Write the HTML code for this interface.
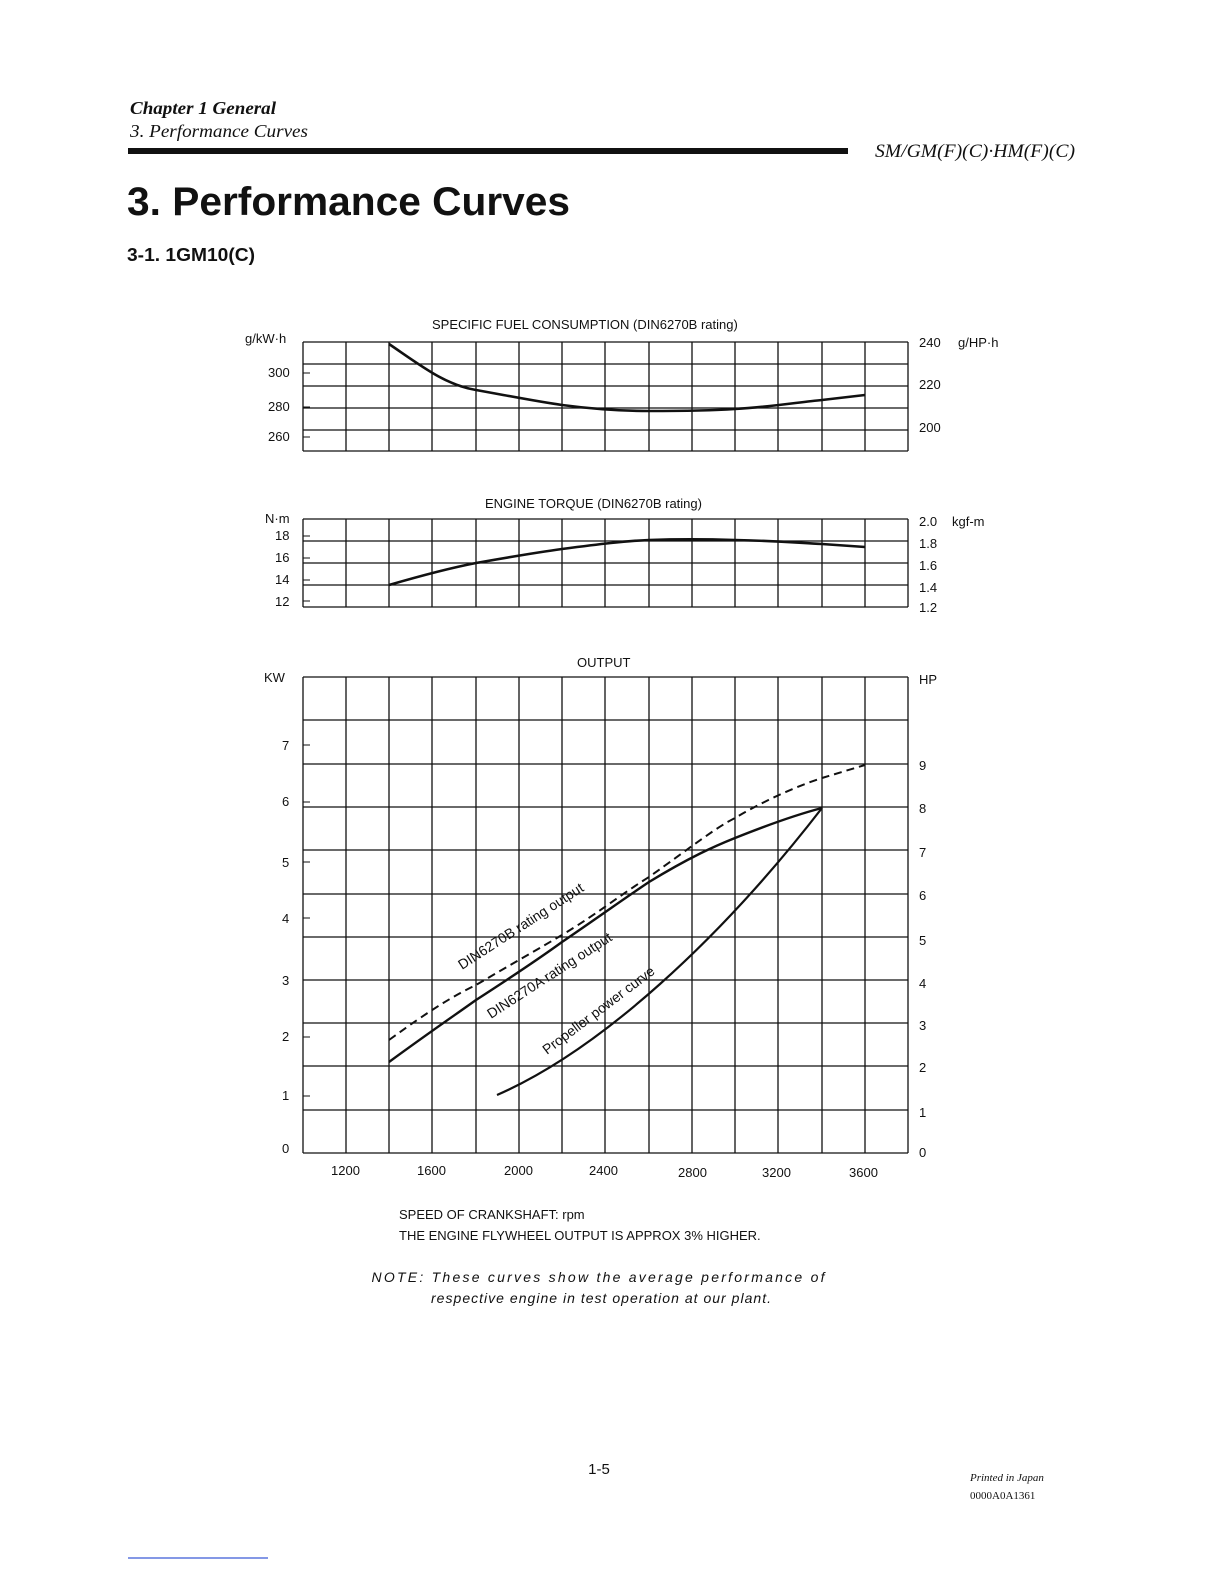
<!DOCTYPE html>
<html><head><meta charset="utf-8"><style>
html,body{margin:0;padding:0;background:#fff}
svg{display:block}
text{font-family:"Liberation Sans",sans-serif;fill:#111}
.s{font-family:"Liberation Serif",serif;font-style:italic}
</style></head><body>
<svg width="1224" height="1584" viewBox="0 0 1224 1584" xmlns="http://www.w3.org/2000/svg">
<text x="130" y="114" class="s" font-size="18" font-weight="bold" textLength="146" lengthAdjust="spacingAndGlyphs">Chapter 1 General</text>
<text x="130" y="137" class="s" font-size="18" textLength="178" lengthAdjust="spacingAndGlyphs">3. Performance Curves</text>
<rect x="128" y="148" width="720" height="6" fill="#111"/>
<text x="875" y="157" class="s" font-size="19" textLength="200" lengthAdjust="spacingAndGlyphs">SM/GM(F)(C)·HM(F)(C)</text>
<text x="127" y="215" font-size="40" font-weight="bold" textLength="443" lengthAdjust="spacingAndGlyphs">3. Performance Curves</text>
<text x="127" y="261" font-size="18" font-weight="bold" textLength="128" lengthAdjust="spacingAndGlyphs">3-1. 1GM10(C)</text>

<g stroke="#111" stroke-width="1.3" fill="none">
<line x1="303" y1="342" x2="303" y2="451"/><line x1="346" y1="342" x2="346" y2="451"/><line x1="389" y1="342" x2="389" y2="451"/><line x1="432" y1="342" x2="432" y2="451"/><line x1="476" y1="342" x2="476" y2="451"/><line x1="519" y1="342" x2="519" y2="451"/><line x1="562" y1="342" x2="562" y2="451"/><line x1="605" y1="342" x2="605" y2="451"/><line x1="649" y1="342" x2="649" y2="451"/><line x1="692" y1="342" x2="692" y2="451"/><line x1="735" y1="342" x2="735" y2="451"/><line x1="778" y1="342" x2="778" y2="451"/><line x1="822" y1="342" x2="822" y2="451"/><line x1="865" y1="342" x2="865" y2="451"/><line x1="908" y1="342" x2="908" y2="451"/>
<line x1="303" y1="342" x2="908" y2="342"/><line x1="303" y1="364" x2="908" y2="364"/><line x1="303" y1="386" x2="908" y2="386"/><line x1="303" y1="408" x2="908" y2="408"/><line x1="303" y1="430" x2="908" y2="430"/><line x1="303" y1="451" x2="908" y2="451"/>
<path d="M389,344 C420,365 445,385 476,390 C520,398 540,402 562,405 C600,410 630,411 649,411 C690,411 720,410 735,409 C770,407 800,402 822,400 L865,395" stroke-width="2.6"/>

<line x1="303" y1="519" x2="303" y2="607"/><line x1="346" y1="519" x2="346" y2="607"/><line x1="389" y1="519" x2="389" y2="607"/><line x1="432" y1="519" x2="432" y2="607"/><line x1="476" y1="519" x2="476" y2="607"/><line x1="519" y1="519" x2="519" y2="607"/><line x1="562" y1="519" x2="562" y2="607"/><line x1="605" y1="519" x2="605" y2="607"/><line x1="649" y1="519" x2="649" y2="607"/><line x1="692" y1="519" x2="692" y2="607"/><line x1="735" y1="519" x2="735" y2="607"/><line x1="778" y1="519" x2="778" y2="607"/><line x1="822" y1="519" x2="822" y2="607"/><line x1="865" y1="519" x2="865" y2="607"/><line x1="908" y1="519" x2="908" y2="607"/>
<line x1="303" y1="519" x2="908" y2="519"/><line x1="303" y1="541" x2="908" y2="541"/><line x1="303" y1="563" x2="908" y2="563"/><line x1="303" y1="585" x2="908" y2="585"/><line x1="303" y1="607" x2="908" y2="607"/>
<path d="M389,585 C420,576 450,568 476,563 C510,557 540,552 562,549 C600,544 625,541 649,540 C680,539 700,539 735,540 C780,541 800,543 822,544 L865,547" stroke-width="2.6"/>

<line x1="303" y1="677" x2="303" y2="1153"/><line x1="346" y1="677" x2="346" y2="1153"/><line x1="389" y1="677" x2="389" y2="1153"/><line x1="432" y1="677" x2="432" y2="1153"/><line x1="476" y1="677" x2="476" y2="1153"/><line x1="519" y1="677" x2="519" y2="1153"/><line x1="562" y1="677" x2="562" y2="1153"/><line x1="605" y1="677" x2="605" y2="1153"/><line x1="649" y1="677" x2="649" y2="1153"/><line x1="692" y1="677" x2="692" y2="1153"/><line x1="735" y1="677" x2="735" y2="1153"/><line x1="778" y1="677" x2="778" y2="1153"/><line x1="822" y1="677" x2="822" y2="1153"/><line x1="865" y1="677" x2="865" y2="1153"/><line x1="908" y1="677" x2="908" y2="1153"/>
<line x1="303" y1="677" x2="908" y2="677"/><line x1="303" y1="720" x2="908" y2="720"/><line x1="303" y1="764" x2="908" y2="764"/><line x1="303" y1="807" x2="908" y2="807"/><line x1="303" y1="850" x2="908" y2="850"/><line x1="303" y1="894" x2="908" y2="894"/><line x1="303" y1="937" x2="908" y2="937"/><line x1="303" y1="980" x2="908" y2="980"/><line x1="303" y1="1023" x2="908" y2="1023"/><line x1="303" y1="1066" x2="908" y2="1066"/><line x1="303" y1="1110" x2="908" y2="1110"/><line x1="303" y1="1153" x2="908" y2="1153"/>
<g stroke-width="1">
<line x1="303" y1="745" x2="310" y2="745"/><line x1="303" y1="802" x2="310" y2="802"/><line x1="303" y1="862" x2="310" y2="862"/><line x1="303" y1="918" x2="310" y2="918"/><line x1="303" y1="980" x2="310" y2="980"/><line x1="303" y1="1037" x2="310" y2="1037"/><line x1="303" y1="1096" x2="310" y2="1096"/>
<line x1="303" y1="373" x2="310" y2="373"/><line x1="303" y1="407" x2="310" y2="407"/><line x1="303" y1="437" x2="310" y2="437"/>
<line x1="303" y1="536" x2="310" y2="536"/><line x1="303" y1="558" x2="310" y2="558"/><line x1="303" y1="580" x2="310" y2="580"/><line x1="303" y1="601" x2="310" y2="601"/>
</g>
<path d="M389,1040 C430,1010 455,995 476,985 C510,965 540,948 562,935 C600,912 620,895 649,877 C690,848 715,828 735,818 C765,800 800,785 822,778 L865,765" stroke-width="2" stroke-dasharray="8,5"/>
<path d="M389,1062 C430,1032 455,1015 476,1000 C510,978 540,958 562,942 C600,916 625,898 649,882 C690,857 715,846 735,838 C765,826 795,815 822,808" stroke-width="2.4"/>
<path d="M497,1095 C600,1050 720,940 822,808" stroke-width="2.2"/>
</g>

<text x="0" y="0" font-size="14" transform="translate(462,970) rotate(-33)">DIN6270B rating output</text>
<text x="0" y="0" font-size="14" transform="translate(491,1019) rotate(-33)">DIN6270A rating output</text>
<text x="0" y="0" font-size="14" transform="translate(547,1055) rotate(-37)">Propeller power curve</text>

<g font-size="13">
<text x="432" y="329">SPECIFIC FUEL CONSUMPTION (DIN6270B rating)</text>
<text x="245" y="343">g/kW·h</text>
<text x="268" y="377">300</text><text x="268" y="411">280</text><text x="268" y="441">260</text>
<text x="919" y="347">240</text><text x="958" y="347">g/HP·h</text>
<text x="919" y="389">220</text><text x="919" y="432">200</text>
<text x="485" y="508">ENGINE TORQUE (DIN6270B rating)</text>
<text x="265" y="523">N·m</text>
<text x="275" y="540">18</text><text x="275" y="562">16</text><text x="275" y="584">14</text><text x="275" y="606">12</text>
<text x="919" y="526">2.0</text><text x="952" y="526">kgf-m</text>
<text x="919" y="548">1.8</text><text x="919" y="570">1.6</text><text x="919" y="592">1.4</text><text x="919" y="612">1.2</text>
<text x="577" y="667">OUTPUT</text>
<text x="264" y="682">KW</text>
<text x="282" y="750">7</text><text x="282" y="806">6</text><text x="282" y="867">5</text><text x="282" y="923">4</text><text x="282" y="985">3</text><text x="282" y="1041">2</text><text x="282" y="1100">1</text><text x="282" y="1153">0</text>
<text x="919" y="684">HP</text>
<text x="919" y="770">9</text><text x="919" y="813">8</text><text x="919" y="857">7</text><text x="919" y="900">6</text><text x="919" y="945">5</text><text x="919" y="988">4</text><text x="919" y="1030">3</text><text x="919" y="1072">2</text><text x="919" y="1117">1</text><text x="919" y="1157">0</text>
<text x="331" y="1175">1200</text><text x="417" y="1175">1600</text><text x="504" y="1175">2000</text><text x="589" y="1175">2400</text><text x="678" y="1177">2800</text><text x="762" y="1177">3200</text><text x="849" y="1177">3600</text>
<text x="399" y="1219">SPEED OF CRANKSHAFT: rpm</text>
<text x="399" y="1240">THE ENGINE FLYWHEEL OUTPUT IS APPROX 3% HIGHER.</text>
</g>
<text x="598" y="1282" font-size="14" font-style="italic" text-anchor="middle" textLength="453" lengthAdjust="spacing">NOTE: These curves show the average performance of</text>
<text x="601" y="1303" font-size="14" font-style="italic" text-anchor="middle" textLength="340" lengthAdjust="spacing">respective engine in test operation at our plant.</text>
<text x="599" y="1474" font-size="15" text-anchor="middle">1-5</text>
<text x="970" y="1481" class="s" font-size="11">Printed in Japan</text>
<text x="970" y="1499" font-size="11" style="font-family:'Liberation Serif',serif">0000A0A1361</text>
<line x1="128" y1="1558" x2="268" y2="1558" stroke="#3b5bd8" stroke-width="1.2"/>
</svg>
</body></html>
